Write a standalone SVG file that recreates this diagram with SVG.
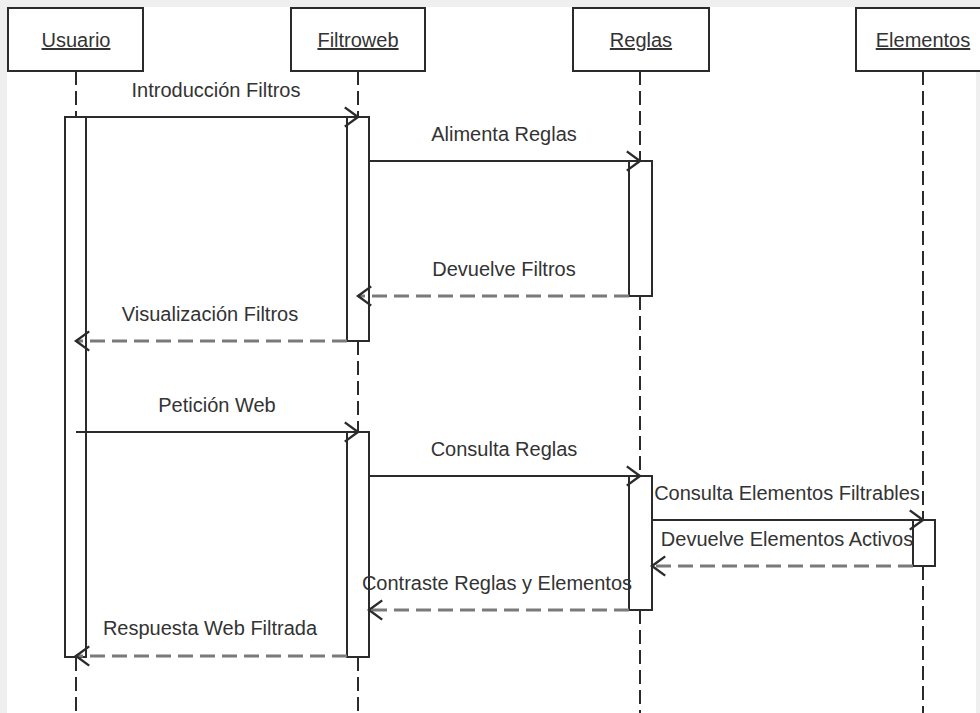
<svg xmlns="http://www.w3.org/2000/svg" width="980" height="713" viewBox="0 0 980 713">
<style>
.frame{fill:#efefef}
.page{fill:#ffffff}
.box{fill:#ffffff;stroke:#2b2b2b;stroke-width:2}
.act{fill:#ffffff;stroke:#2b2b2b;stroke-width:2}
.life{fill:none;stroke:#2b2b2b;stroke-width:2;stroke-dasharray:14 6}
.call{fill:none;stroke:#2b2b2b;stroke-width:2}
.ret{fill:none;stroke:#7a7a7a;stroke-width:3;stroke-dasharray:15 7}
.hdr{font-family:"Liberation Sans",Arial,sans-serif;font-size:20px;fill:#333333;text-anchor:middle;text-decoration:underline}
.lbl{font-family:"Liberation Sans",Arial,sans-serif;font-size:20px;fill:#333333;text-anchor:middle}
</style>
<defs>
<marker id="open" markerUnits="userSpaceOnUse" markerWidth="24" markerHeight="24" viewBox="-12 -10 14 20" refX="0" refY="0" orient="auto" overflow="visible">
<path d="M -11 -8 L 0 0 L -11 8" fill="none" stroke="#2b2b2b" stroke-width="2" stroke-dasharray="none"/>
</marker>
</defs>
<rect class="frame" x="0" y="0" width="980" height="713"/>
<rect class="page" x="7" y="7" width="969" height="706"/>

<g id="lifelines">
<line class="life" x1="76" y1="71" x2="76" y2="117"/>
<line class="life" x1="76" y1="657" x2="76" y2="713"/>
<line class="life" x1="358" y1="71" x2="358" y2="117"/>
<line class="life" x1="358" y1="341" x2="358" y2="432"/>
<line class="life" x1="358" y1="657" x2="358" y2="713"/>
<line class="life" x1="640" y1="71" x2="640" y2="161"/>
<line class="life" x1="640" y1="296" x2="640" y2="476"/>
<line class="life" x1="640" y1="610" x2="640" y2="713"/>
<line class="life" x1="923" y1="71" x2="923" y2="520"/>
<line class="life" x1="923" y1="566" x2="923" y2="713"/>
</g>

<g id="usuario">
<rect class="box" x="8" y="8" width="135" height="63"/>
<text class="hdr" x="76" y="47">Usuario</text>
<rect class="act" x="65" y="117" width="21" height="540"/>
</g>
<g id="filtroweb">
<rect class="box" x="291" y="8" width="134" height="63"/>
<text class="hdr" x="358" y="47">Filtroweb</text>
<rect class="act" x="347" y="117" width="22" height="224"/>
<rect class="act" x="347" y="432" width="22" height="225"/>
</g>
<g id="reglas">
<rect class="box" x="573" y="8" width="136" height="63"/>
<text class="hdr" x="641" y="47">Reglas</text>
<rect class="act" x="629" y="161" width="23" height="135"/>
<rect class="act" x="629" y="476" width="23" height="134"/>
</g>
<g id="elementos">
<rect class="box" x="856" y="8" width="134" height="63"/>
<text class="hdr" x="923" y="47">Elementos</text>
<rect class="act" x="913" y="520" width="22" height="46"/>
</g>

<g id="connectors">
<line class="call" x1="65" y1="117" x2="358" y2="117" marker-end="url(#open)"/>
<line class="call" x1="369" y1="161" x2="640" y2="161" marker-end="url(#open)"/>
<line class="ret" x1="629" y1="296" x2="358" y2="296" marker-end="url(#open)"/>
<line class="ret" x1="347" y1="341" x2="76" y2="341" marker-end="url(#open)"/>
<line class="call" x1="76" y1="432" x2="358" y2="432" marker-end="url(#open)"/>
<line class="call" x1="369" y1="476" x2="640" y2="476" marker-end="url(#open)"/>
<line class="call" x1="652" y1="520" x2="923" y2="520" marker-end="url(#open)"/>
<line class="ret" x1="913" y1="566" x2="652" y2="566" marker-end="url(#open)"/>
<line class="ret" x1="629" y1="610" x2="369" y2="610" marker-end="url(#open)"/>
<line class="ret" x1="347" y1="656" x2="76" y2="656" marker-end="url(#open)"/>
</g>

<g id="labels">
<text class="lbl" x="216" y="97">Introducción Filtros</text>
<text class="lbl" x="504" y="141">Alimenta Reglas</text>
<text class="lbl" x="504" y="276">Devuelve Filtros</text>
<text class="lbl" x="210" y="321">Visualización Filtros</text>
<text class="lbl" x="217" y="412">Petición Web</text>
<text class="lbl" x="504" y="456">Consulta Reglas</text>
<text class="lbl" x="787" y="500">Consulta Elementos Filtrables</text>
<text class="lbl" x="787" y="546">Devuelve Elementos Activos</text>
<text class="lbl" x="497" y="590">Contraste Reglas y Elementos</text>
<text class="lbl" x="210" y="635">Respuesta Web Filtrada</text>
</g>
</svg>
